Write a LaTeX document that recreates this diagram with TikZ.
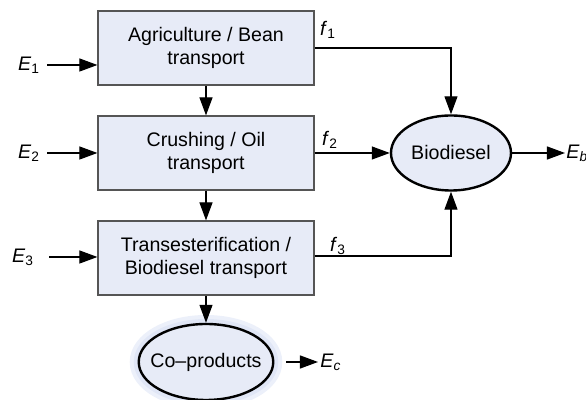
\documentclass[tikz,border=0pt]{standalone}
\usepackage{fontspec}
\setmainfont{Liberation Sans}
\usepackage{tikz}
\usetikzlibrary{shapes, arrows.meta, positioning}
\definecolor{boxfill}{RGB}{231,235,247}
\definecolor{haloblue}{RGB}{224,230,246}
\definecolor{boxline}{RGB}{85,85,85}
\tikzstyle{block}=[draw=boxline,fill=boxfill,rectangle,line width=0.6pt,minimum width=108pt,minimum height=37pt,align=center]
\tikzstyle{product}=[draw=black,fill=boxfill,ellipse,line width=1.2pt,minimum width=60pt,minimum height=37.5pt,inner sep=0pt]
\tikzstyle{halo}=[preaction={draw=haloblue,line width=9pt,opacity=0.6},preaction={draw=haloblue,line width=5pt}]
\tikzstyle{every node}=[font=\fontsize{9.8}{11.5}\selectfont]
\tikzstyle{flow}=[line width=0.6pt]
\newcommand{\sym}[2]{\textit{#1}\textsubscript{#2}}

\begin{document}
\begin{tikzpicture}[auto,x=0.5pt,y=-0.5pt,>={Triangle[length=9pt,width=6.5pt]}]
  \useasboundingbox (0,0) rectangle (586,400);
  \node[block] (agri) at (206,48) {Agriculture / Bean\\transport};
  \node[block, below of=agri, node distance=52.5pt] (crush) {Crushing / Oil\\transport};
  \node[block, below of=crush, node distance=52.5pt] (trans) {Transesterification /\\Biodiesel transport};
  \node[product, halo, below of=trans, node distance=52pt, minimum width=59pt, minimum height=38pt, inner xsep=-4pt] (coprod) {Co–products};
  \node[product, right of=crush, node distance=122.5pt] (bio) {Biodiesel};
  % energy inputs
  \node (e1) at (29,65) {\sym{E}{1}};
  \node (e2) at (29,153) {\sym{E}{2}};
  \node (e3) at (23,257) {\sym{E}{3}};
  \draw[flow,->] (e1) -- (e1 -| agri.west);
  \draw[flow,->] (e2) -- (e2 -| crush.west);
  \draw[flow,->] ([xshift=4pt]e3.east) -- (e3 -| trans.west);
  % process chain
  \draw[flow,->] (agri) -- (crush);
  \draw[flow,->] (crush) -- (trans);
  \draw[flow,->] (trans) -- (coprod);
  % fuel flows
  \node (f1) at (328,30) {\sym{f}{1}};
  \node (f2) at (330,140) {\sym{f}{2}};
  \node (f3) at (338,246) {\sym{f}{3}};
  \draw[flow,->] (agri.east) -| (bio.north);
  \draw[flow,->] (crush.east) -- (bio.west);
  \draw[flow,->] ([yshift=1pt]trans.east) -| (bio.south);
  % outputs
  \node[inner sep=0.5pt,anchor=west] (eb) at (565,153) {\sym{E}{\textit{b}}};
  \node[inner sep=1pt,anchor=west] (ec) at (318,362) {\sym{E}{\textit{c}}};
  \draw[flow,->] (bio.east) -- (eb.west);
  \draw[flow,->] ([xshift=6pt]coprod.east) -- (ec.west);
\end{tikzpicture}
\end{document}
